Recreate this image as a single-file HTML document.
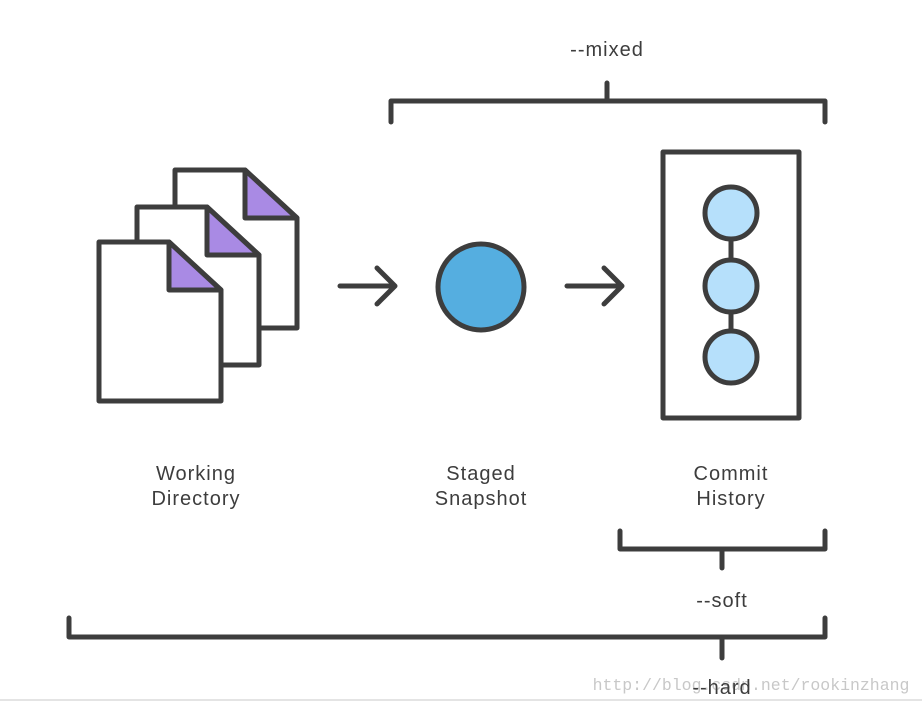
<!DOCTYPE html>
<html><head><style>
html,body{margin:0;padding:0;background:#fff;}
svg{display:block}
text{font-family:"Liberation Sans",sans-serif;fill:#3d3d3d;font-size:20px;letter-spacing:1px;text-anchor:middle}
</style></head><body>
<svg width="922" height="703" viewBox="0 0 922 703">
<g stroke="#3d3d3d" stroke-width="5" stroke-linejoin="round" stroke-linecap="round" fill="none">
<path d="M175,170 H245 L297,218 V328 H175 Z" fill="#fff"/>
<path d="M245,170 V218 H297 Z" fill="#a98ae4"/>
<path d="M137,207 H207 L259,255 V365 H137 Z" fill="#fff"/>
<path d="M207,207 V255 H259 Z" fill="#a98ae4"/>
<path d="M99,242 H169 L221,290 V401 H99 Z" fill="#fff"/>
<path d="M169,242 V290 H221 Z" fill="#a98ae4"/>
<path d="M340,286 H395 M377,268 L395,286 L377,304"/>
<path d="M567,286 H622 M604,268 L622,286 L604,304"/>
<circle cx="481" cy="287" r="43" fill="#55aee0"/>
<rect x="663" y="152" width="136" height="266" fill="#fff"/>
<path d="M731,213 V357"/>
<circle cx="731" cy="213" r="26" fill="#b6e0fb"/>
<circle cx="731" cy="286" r="26" fill="#b6e0fb"/>
<circle cx="731" cy="357" r="26" fill="#b6e0fb"/>
<path d="M391,122 V101 H825 V122 M607,101 V83"/>
<path d="M620,531 V549 H825 V531 M722,549 V568"/>
<path d="M69,618 V637 H825 V618 M722,637 V658"/>
</g>
<text x="607" y="56">--mixed</text>
<text x="196" y="480">Working</text>
<text x="196" y="505">Directory</text>
<text x="481" y="480">Staged</text>
<text x="481" y="505">Snapshot</text>
<text x="731" y="480">Commit</text>
<text x="731" y="505">History</text>
<text x="722" y="607">--soft</text>
<text x="751" y="690" style="font-family:'Liberation Mono',monospace;font-size:16.5px;fill:#c8c8c8;letter-spacing:0">http://blog.csdn.net/rookinzhang</text>
<text x="722" y="694">--hard</text>
<line x1="0" y1="700" x2="922" y2="700" stroke="#e4e4e4" stroke-width="2"/>
</svg>
</body></html>
